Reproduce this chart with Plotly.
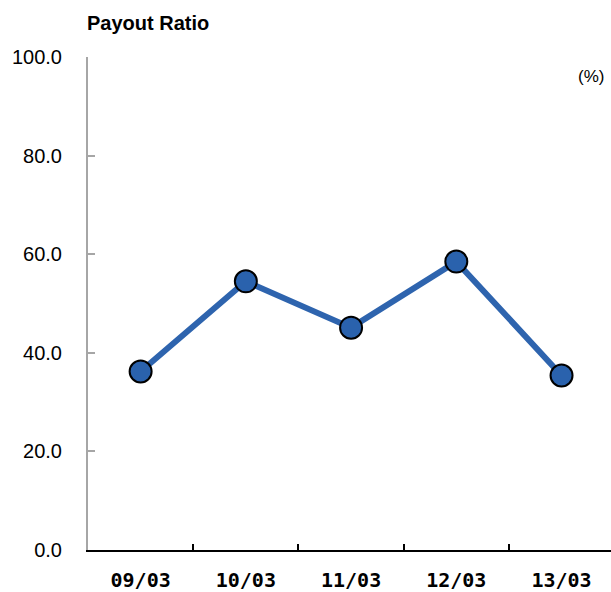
import plotly.graph_objects as go

categories = ["09/03", "10/03", "11/03", "12/03", "13/03"]
payout_ratio = [36.2, 54.5, 45.1, 58.5, 35.4]
y_ticks = [0, 20, 40, 60, 80, 100]
y_tick_labels = ["0.0", "20.0", "40.0", "60.0", "80.0", "100.0"]

W, H = 611, 592
L, R, T, B = 88, 0, 57, 38
PW, PH = W - L - R, H - T - B

fig = go.Figure()
fig.add_trace(go.Scatter(
    x=categories, y=payout_ratio, mode="lines+markers",
    line=dict(color="#2E64AE", width=6),
    marker=dict(size=22, color="#2A62AD", line=dict(color="#000000", width=2)),
    cliponaxis=False, showlegend=False,
))

fig.update_layout(
    width=W, height=H,
    margin=dict(l=L, r=R, t=T, b=B),
    paper_bgcolor="white", plot_bgcolor="white",
    xaxis=dict(
        type="category", range=[-0.5, 4.47],
        showline=True, linecolor="#000000", linewidth=2,
        ticks="inside", tickson="boundaries", ticklen=6, tickcolor="#000000", tickwidth=1.5,
        showgrid=False, zeroline=False,
        tickfont=dict(family="DejaVu Sans Mono", size=20, color="#000000", weight="bold"),
        ticklabelstandoff=11,
    ),
    yaxis=dict(
        range=[0, 100], tickvals=y_ticks, ticktext=y_tick_labels,
        showline=True, linecolor="#A6A6A6", linewidth=2,
        ticks="inside", ticklen=7, tickcolor="#A6A6A6", tickwidth=1.5,
        showgrid=False, zeroline=False,
        tickfont=dict(family="Liberation Sans", size=20, color="#000000"),
        ticklabelstandoff=20,
    ),
    annotations=[
        dict(text="<b>Payout Ratio</b>", xref="paper", yref="paper",
             x=(85 - L) / PW, y=1 + (T - 23) / PH,
             showarrow=False, xanchor="left", yanchor="middle",
             font=dict(family="Liberation Sans", size=20, color="#000000")),
        dict(text="(%)", x=1, y=1, xref="paper", yref="paper", showarrow=False,
             xanchor="right", yanchor="middle", xshift=-5, yshift=-19,
             font=dict(family="Liberation Sans", size=17, color="#000000")),
    ],
)
fig.write_html("out.html", config={"displayModeBar": False},
               post_script="document.body.style.margin='0px';")
